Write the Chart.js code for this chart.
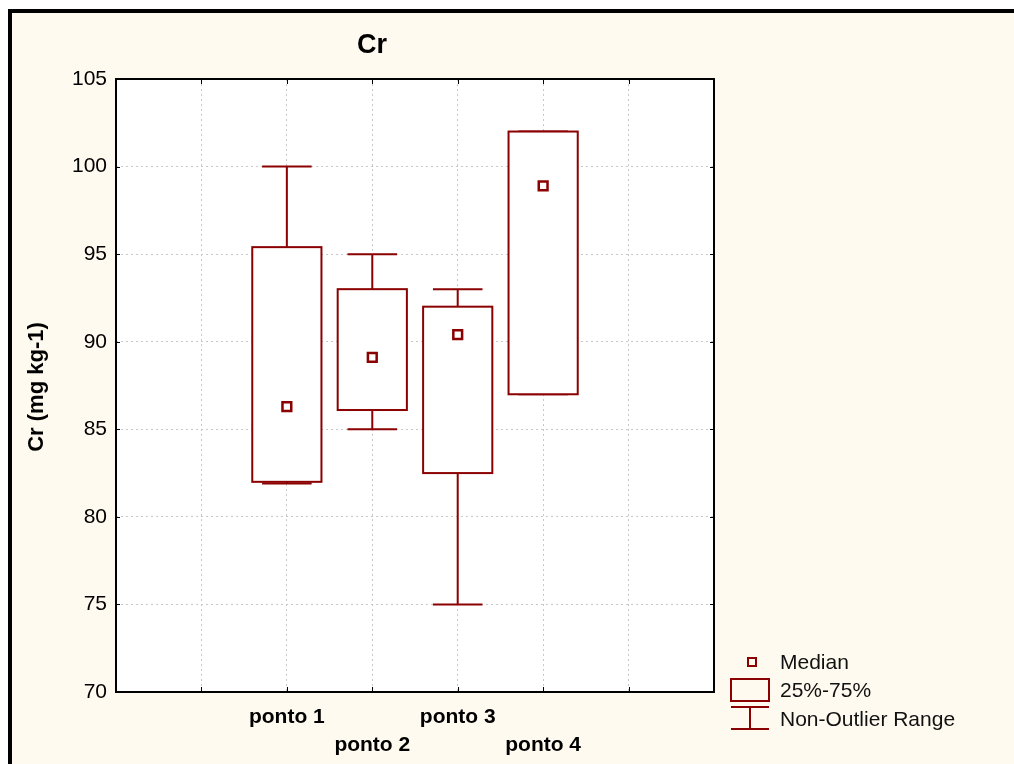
<!DOCTYPE html>
<html>
<head>
<meta charset="utf-8">
<script src="https://cdn.jsdelivr.net/npm/chart.js@4.4.0/dist/chart.umd.min.js"></script>
<style>
  html, body { margin: 0; padding: 0; background: #ffffff; }
  #wrap { width: 1014px; height: 764px; }
</style>
</head>
<body>
<div id="wrap"><canvas id="boxChart" width="1014" height="764"></canvas></div>
<script>
// Box plot values
const categories = ["ponto 1", "ponto 2", "ponto 3", "ponto 4"];
const minVals = [81.9, 85, 75, 87];
const q1Vals = [82, 86.1, 82.5, 87];
const medianVals = [86.3, 89.1, 90.4, 98.9];
const q3Vals = [95.4, 93, 92, 102];
const maxVals = [100, 95, 93, 102];
const yTicks = [70, 75, 80, 85, 90, 95, 100, 105];

const RED = "#8b0000";
const CREAM = "#fffaf0";
const FONT = "'Liberation Sans', Arial, sans-serif";

// categories sit at x = 2..5 on a 0..7 axis
const catX = categories.map((c, i) => i + 2);

// Background, frame, title, axis title, boxes and legend
const boxPlugin = {
    id: "boxPlugin",
    beforeDraw(chart) {
        const ctx = chart.ctx;
        const a = chart.chartArea;
        ctx.save();
        ctx.fillStyle = "#ffffff";
        ctx.fillRect(0, 0, chart.width, chart.height);
        ctx.fillStyle = CREAM;
        ctx.fillRect(10, 11, chart.width, chart.height);
        ctx.fillStyle = "#000000";
        ctx.fillRect(8, 9, chart.width, 4);
        ctx.fillRect(8, 9, 4, chart.height);
        ctx.fillStyle = "#ffffff";
        ctx.fillRect(a.left, a.top, a.right - a.left, a.bottom - a.top);
        ctx.restore();
    },
    beforeDatasetsDraw(chart) {
        const ctx = chart.ctx;
        const xs = chart.scales.x;
        const ys = chart.scales.y;
        const a = chart.chartArea;
        ctx.save();
        // plot frame
        ctx.strokeStyle = "#000000";
        ctx.lineWidth = 2;
        ctx.strokeRect(a.left, a.top, a.right - a.left, a.bottom - a.top);
        // inner tick marks
        ctx.lineWidth = 1;
        yTicks.forEach(v => {
            const y = Math.round(ys.getPixelForValue(v)) + 0.5;
            ctx.beginPath();
            ctx.moveTo(a.left, y); ctx.lineTo(a.left + 4, y);
            ctx.moveTo(a.right, y); ctx.lineTo(a.right - 4, y);
            ctx.stroke();
        });
        for (let v = 1; v < 7; v++) {
            const x = Math.round(xs.getPixelForValue(v)) + 0.5;
            ctx.beginPath();
            ctx.moveTo(x, a.top); ctx.lineTo(x, a.top + 5);
            ctx.moveTo(x, a.bottom); ctx.lineTo(x, a.bottom - 5);
            ctx.stroke();
        }
        // boxes and whiskers
        ctx.strokeStyle = RED;
        ctx.lineWidth = 2;
        categories.forEach((c, i) => {
            const cx = xs.getPixelForValue(catX[i]);
            const bl = xs.getPixelForValue(catX[i] - 0.405);
            const br = xs.getPixelForValue(catX[i] + 0.405);
            const wl = xs.getPixelForValue(catX[i] - 0.29);
            const wr = xs.getPixelForValue(catX[i] + 0.29);
            const yMin = ys.getPixelForValue(minVals[i]);
            const yQ1 = ys.getPixelForValue(q1Vals[i]);
            const yQ3 = ys.getPixelForValue(q3Vals[i]);
            const yMax = ys.getPixelForValue(maxVals[i]);
            ctx.beginPath();
            ctx.moveTo(cx, yMax); ctx.lineTo(cx, yQ3);
            ctx.moveTo(cx, yQ1); ctx.lineTo(cx, yMin);
            ctx.moveTo(wl, yMax); ctx.lineTo(wr, yMax);
            ctx.moveTo(wl, yMin); ctx.lineTo(wr, yMin);
            ctx.stroke();
            ctx.fillStyle = "#ffffff";
            ctx.fillRect(bl, yQ3, br - bl, yQ1 - yQ3);
            ctx.strokeRect(bl, yQ3, br - bl, yQ1 - yQ3);
        });
        ctx.restore();
    },
    afterDraw(chart) {
        const ctx = chart.ctx;
        ctx.save();
        // title
        ctx.fillStyle = "#000000";
        ctx.textAlign = "center";
        ctx.textBaseline = "middle";
        ctx.font = "bold 27px " + FONT;
        ctx.fillText("Cr", 372, 46);
        // y axis title
        ctx.save();
        ctx.translate(37, 387);
        ctx.rotate(-Math.PI / 2);
        ctx.font = "bold 22px " + FONT;
        ctx.fillText("Cr (mg kg-1)", 0, 0);
        ctx.restore();
        // legend
        ctx.strokeStyle = RED;
        ctx.lineWidth = 2;
        ctx.strokeRect(748, 658, 8, 8);
        ctx.strokeRect(731, 679, 38, 22);
        ctx.beginPath();
        ctx.moveTo(731, 707); ctx.lineTo(769, 707);
        ctx.moveTo(750, 707); ctx.lineTo(750, 729);
        ctx.moveTo(731, 729); ctx.lineTo(769, 729);
        ctx.stroke();
        ctx.fillStyle = "#111111";
        ctx.textAlign = "left";
        ctx.font = "21px " + FONT;
        ctx.fillText("Median", 780, 663);
        ctx.fillText("25%-75%", 780, 691);
        ctx.fillText("Non-Outlier Range", 780, 720);
        ctx.restore();
    }
};

new Chart(document.getElementById("boxChart"), {
    type: "scatter",
    data: {
        datasets: [{
            label: "Median",
            data: medianVals.map((m, i) => ({ x: catX[i], y: m })),
            pointStyle: "rect",
            pointRadius: 6.2,
            pointBorderWidth: 2.5,
            pointBorderColor: RED,
            pointBackgroundColor: "#ffffff"
        }]
    },
    options: {
        responsive: false,
        animation: false,
        devicePixelRatio: 1,
        layout: { padding: { top: 79, right: 300, left: 0, bottom: 0 } },
        plugins: {
            legend: { display: false },
            tooltip: { enabled: false },
            title: { display: false }
        },
        scales: {
            x: {
                type: "linear",
                min: 0,
                max: 7,
                afterFit: scale => { scale.height = 72; },
                afterBuildTicks: scale => {
                    scale.ticks = [0, 1, 2, 3, 4, 5, 6, 7].map(v => ({ value: v }));
                },
                ticks: {
                    padding: 11,
                    autoSkip: false,
                    maxRotation: 0,
                    color: "#000000",
                    font: { family: FONT, size: 21, weight: "bold", lineHeight: 1.333 },
                    callback: v => {
                        const i = v - 2;
                        if (i < 0 || i >= categories.length) return "";
                        return i % 2 === 0 ? categories[i] : ["", categories[i]];
                    }
                },
                grid: { color: "#c8c8c8", drawTicks: false },
                border: { display: false, dash: [2, 3] }
            },
            y: {
                min: 70,
                max: 105,
                afterFit: scale => { scale.width = 116; },
                afterBuildTicks: scale => {
                    scale.ticks = yTicks.map(v => ({ value: v }));
                },
                ticks: {
                    padding: 9,
                    color: "#000000",
                    font: { family: FONT, size: 21 }
                },
                grid: { color: "#c8c8c8", drawTicks: false },
                border: { display: false, dash: [2, 3] }
            }
        }
    },
    plugins: [boxPlugin]
});
</script>
</body>
</html>
